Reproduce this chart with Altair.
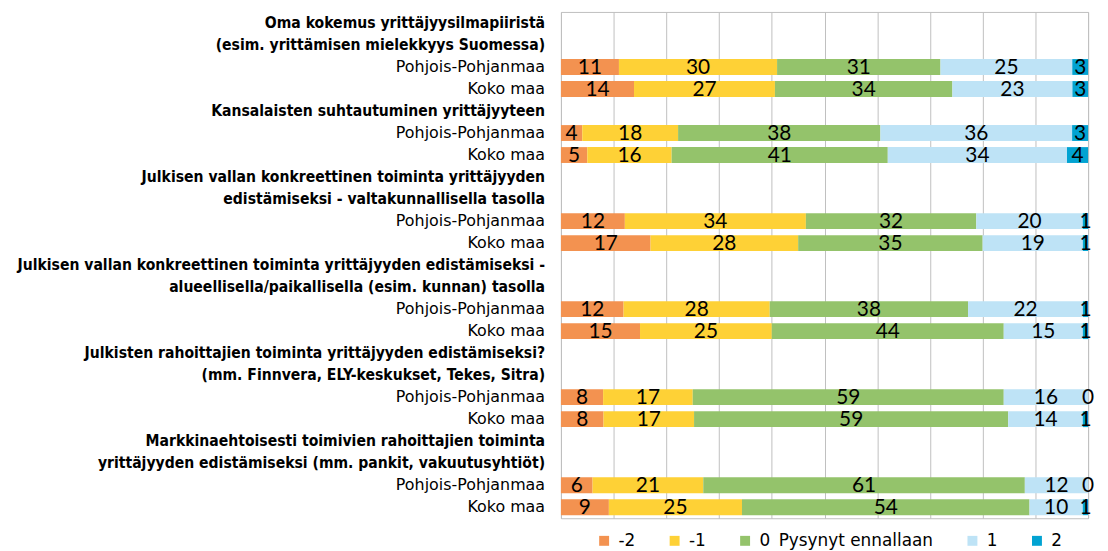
import altair as alt
import pandas as pd

series = ["-2", "-1", "0\u2002Pysynyt ennallaan", "1", "2"]
colors = ["#F39250", "#FED136", "#94C36B", "#BEE3F6", "#02A3D2"]
regions = ["Pohjois-Pohjanmaa", "Koko maa"]
group_titles = [
    ["Oma kokemus yrittäjyysilmapiiristä", "(esim. yrittämisen mielekkyys Suomessa)"],
    ["Kansalaisten suhtautuminen yrittäjyyteen"],
    ["Julkisen vallan konkreettinen toiminta yrittäjyyden",
     "edistämiseksi - valtakunnallisella tasolla"],
    ["Julkisen vallan konkreettinen toiminta yrittäjyyden edistämiseksi -",
     "alueellisella/paikallisella (esim. kunnan) tasolla"],
    ["Julkisten rahoittajien toiminta yrittäjyyden edistämiseksi?",
     "(mm. Finnvera, ELY-keskukset, Tekes, Sitra)"],
    ["Markkinaehtoisesti toimivien rahoittajien toiminta",
     "yrittäjyyden edistämiseksi (mm. pankit, vakuutusyhtiöt)"],
]
pohjois = [[11, 30, 31, 25, 3], [4, 18, 38, 36, 3], [12, 34, 32, 20, 1],
           [12, 28, 38, 22, 1], [8, 17, 59, 16, 0], [6, 21, 61, 12, 0]]
koko = [[14, 27, 34, 23, 3], [5, 16, 41, 34, 4], [17, 28, 35, 19, 1],
        [15, 25, 44, 15, 1], [8, 17, 59, 14, 1], [9, 25, 54, 10, 1]]

label_rows = []
bar_rows = []
row_ids = []
i = 0
for g, titles in enumerate(group_titles):
    for t in titles:
        rid = f"r{i:02d}"
        row_ids.append(rid)
        label_rows.append({"row": rid, "label": t, "kind": "h"})
        i += 1
    for region, vals in zip(regions, [pohjois[g], koko[g]]):
        rid = f"r{i:02d}"
        row_ids.append(rid)
        label_rows.append({"row": rid, "label": region, "kind": "r"})
        for k, (s, v) in enumerate(zip(series, vals)):
            bar_rows.append({"row": rid, "series": s, "order": k, "value": v})
        i += 1

labels_df = pd.DataFrame(label_rows)
bars_df = pd.DataFrame(bar_rows)

HEAD_FONT = "DejaVu Sans Condensed"
LABEL_FONT = "DejaVu Sans"
NUM_FONT = "Lato"

yenc = alt.Y("row:N", scale=alt.Scale(domain=row_ids, paddingInner=0.28, paddingOuter=0.14),
             axis=None)

base = alt.Chart(bars_df).transform_stack(
    stack="value", groupby=["row"], sort=[alt.SortField("order")],
    as_=["x0", "x1"], offset="normalize"
).transform_calculate(xm="(datum.x0 + datum.x1) / 2")

bars = base.mark_bar().encode(
    x=alt.X("x0:Q", scale=alt.Scale(domain=[0, 1], nice=False),
            axis=alt.Axis(values=[j / 10 for j in range(11)], grid=True, labels=False,
                          ticks=False, domain=False, title=None,
                          gridColor="#BFBFBF", gridWidth=1)),
    x2="x1:Q",
    y=yenc,
    color=alt.Color("series:N", scale=alt.Scale(domain=series, range=colors),
                    legend=alt.Legend(title=None, orient="none", legendX=35, legendY=524,
                                      direction="horizontal", symbolType="square",
                                      symbolSize=100, symbolStrokeWidth=0,
                                      labelFont=LABEL_FONT, labelFontSize=17,
                                      labelColor="black", columnPadding=31,
                                      labelOffset=6, padding=0, labelLimit=300)),
    order=alt.Order("order:Q"),
)

seg_text = base.mark_text(font=NUM_FONT, fontSize=21, color="black", baseline="middle", dy=1).encode(
    x="xm:Q", y=yenc, text="value:Q"
)

heads = alt.Chart(labels_df).transform_filter("datum.kind == 'h'").mark_text(
    align="right", baseline="middle", font=HEAD_FONT, fontSize=15.7, fontWeight="bold", color="black"
).encode(x=alt.value(-16), y=yenc, text="label:N")

regs = alt.Chart(labels_df).transform_filter("datum.kind == 'r'").mark_text(
    align="right", baseline="middle", font=LABEL_FONT, fontSize=16, color="black"
).encode(x=alt.value(-16), y=yenc, text="label:N")

chart = alt.layer(bars, seg_text, heads, regs).properties(
    width=531, height=510,
    autosize=alt.AutoSizeParams(type="none"),
    padding={"left": 557, "top": 2, "right": 12, "bottom": 30},
).configure_view(stroke="#BFBFBF")

chart.save("out.html", embed_options={"renderer": "svg", "actions": False})
